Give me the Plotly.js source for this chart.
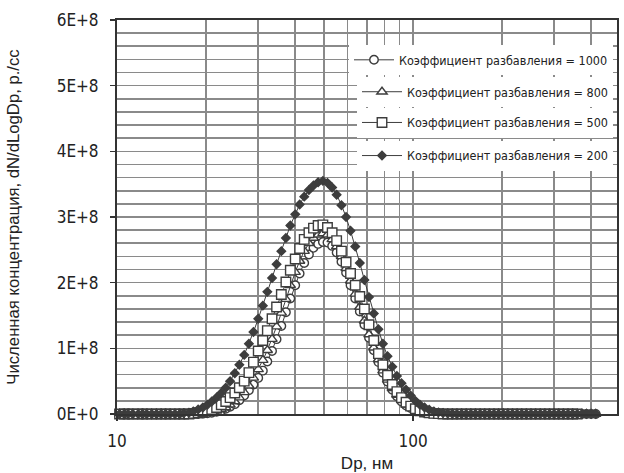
<!DOCTYPE html>
<html>
<head>
<meta charset="utf-8">
<script src="https://cdn.plot.ly/plotly-3.0.1.min.js"></script>
<style>html,body{margin:0;padding:0;background:#fff;}#chart{width:624px;height:473px;}</style>
</head>
<body>
<div id="chart"></div>
<script>
// Particle diameter, nm (SMPS channels)
const dp = [10.2,10.6,10.9,11.3,11.8,12.2,12.6,13.1,13.6,14.1,14.6,15.1,15.7,16.3,16.8,17.5,18.1,18.8,19.5,20.2,20.9,21.7,22.5,23.3,24.1,25.0,25.9,26.9,27.9,28.9,30.0,31.1,32.2,33.4,34.6,35.9,37.2,38.5,40.0,41.4,42.9,44.5,46.1,47.8,49.6,51.4,53.3,55.2,57.3,59.4,61.5,63.8,66.1,68.5,71.0,73.7,76.4,79.1,82.0,85.1,88.2,91.4,94.7,98.2,101.8,105.5,109.4,113.4,117.6,121.9,126.3,131.0,135.8,140.7,145.9,151.2,156.8,162.5,168.5,174.7,181.1,187.7,194.6,201.7,209.1,216.7,224.7,232.9,241.4,250.3,259.5,269.0,278.8,289.0,299.6,310.6,322.0,333.8,346.0,358.7,371.8,385.4,399.5,414.2];

// dN/dLogDp in units of 1E+8 particles/cc
const UNIT = 1e8;
const dil1000 = [0,0,0,0,0,0,0,0,0,0,0,0,0,0,0,0,0,0,
  0.005,0.01,0.02,0.035,0.05,0.08,0.11,0.15,0.21,0.28,0.36,0.45,0.55,0.66,0.80,0.96,1.14,1.34,1.55,1.76,1.96,2.14,2.30,2.43,2.53,2.59,2.62,2.61,2.56,2.46,2.32,2.15,1.96,1.76,1.56,1.36,1.16,0.97,0.79,0.63,0.49,0.37,0.27,0.19,0.13,0.09,0.06,0.04,0.02,0.01,0.005,
  0,0,0,0,0,0,0,0,0,0,0,0,0,0,0,0,0,0,0,0,0,0,0,0,0,0,0,0,0,0,0,0,0,0,0];
const dil800 = [0,0,0,0,0,0,0,0,0,0,0,0,0,0,0,0,0,0,
  0.01,0.02,0.03,0.05,0.07,0.10,0.14,0.19,0.25,0.33,0.43,0.55,0.68,0.82,0.97,1.14,1.33,1.54,1.75,1.96,2.16,2.33,2.48,2.60,2.68,2.73,2.75,2.73,2.66,2.55,2.40,2.22,2.03,1.83,1.63,1.42,1.21,1.01,0.83,0.66,0.52,0.39,0.29,0.21,0.14,0.10,0.06,0.04,0.02,0.01,0.005,
  0,0,0,0,0,0,0,0,0,0,0,0,0,0,0,0,0,0,0,0,0,0,0,0,0,0,0,0,0,0,0,0,0,0,0];
const dil500 = [0,0,0,0,0,0,0,0,0,0,0,0,0,0,0,0,
  0.01,0.02,0.03,0.05,0.07,0.10,0.14,0.19,0.25,0.32,0.40,0.50,0.63,0.79,0.96,1.12,1.27,1.45,1.63,1.82,2.01,2.19,2.36,2.52,2.66,2.76,2.83,2.87,2.88,2.84,2.76,2.64,2.48,2.31,2.14,1.96,1.79,1.60,1.36,1.12,0.92,0.75,0.59,0.45,0.34,0.25,0.18,0.12,0.08,0.05,0.03,0.02,0.01,0.005,
  0,0,0,0,0,0,0,0,0,0,0,0,0,0,0,0,0,0,0,0,0,0,0,0,0,0,0,0,0,0];
const dil200 = [0,0,0,0,0,0,0,0,0,0,0,0,0,0,
  0.01,0.02,0.04,0.07,0.10,0.14,0.19,0.25,0.32,0.40,0.50,0.62,0.75,0.90,1.07,1.25,1.45,1.65,1.86,2.07,2.28,2.48,2.68,2.87,3.04,3.19,3.31,3.41,3.48,3.53,3.55,3.52,3.45,3.34,3.18,3.00,2.79,2.55,2.30,2.04,1.78,1.53,1.29,1.07,0.88,0.72,0.58,0.47,0.37,0.28,0.20,0.14,0.10,0.065,0.04,0.025,0.015,0.008,0.004,
  0,0,0,0,0,0,0,0,0,0,0,0,0,0,0,0,0,0,0,0,0,0,0,0,0,0,0,0,0,0,0];

const seriesNames = [
  'Коэффициент разбавления = 1000',
  'Коэффициент разбавления = 800',
  'Коэффициент разбавления = 500',
  'Коэффициент разбавления = 200'
];
const yTickVals = [0,1,2,3,4,5,6];
const yTickText = ['0E+0','1E+8','2E+8','3E+8','4E+8','5E+8','6E+8'];
const xTickVals = [10,100];
const xTickText = ['10','100'];
const xGridVals = [20,30,40,50,60,70,80,90,200,300,400];
const xTitle = 'Dp, нм';
const yTitle = 'Численная концентрация, dN/dLogDp, p./cc';

const NARROW = '"Liberation Sans Narrow", "DejaVu Sans Condensed", "Arial Narrow", sans-serif';
const REG = '"Liberation Sans", Arial, sans-serif';
const INK = '#3d3d3d';
const GRID = '#8a8a8a';

function scaled(a){ return a.map(v => v*UNIT); }

const specs = [
  {y: dil1000, sym:'circle', size:8.5, legend:'legend'},
  {y: dil800, sym:'triangle-up', size:9, legend:'legend2'},
  {y: dil500, sym:'square', size:9.5, legend:'legend3'},
  {y: dil200, sym:'diamond', size:6.5, legend:'legend4'}
];
const traces = specs.map((s,i)=>({
  type:'scatter', mode:'lines+markers', x: dp, y: scaled(s.y), name: seriesNames[i],
  legend: s.legend, cliponaxis:false,
  line:{color:INK, width:1},
  marker:{symbol:s.sym, size:s.size, color: s.sym==='diamond'?INK:'#ffffff',
          line:{color:INK, width:1.4}}
}));

const legendY = [0.898, 0.817, 0.739, 0.655];
function leg(y){
  return {x:0.992, xanchor:'right', y:y, yanchor:'middle', bgcolor:'#ffffff',
          borderwidth:0, itemwidth:40, font:{family:NARROW, size:12.5, color:'#222'},
          itemclick:false};
}

const layout = {
  width:624, height:473,
  margin:{l:117, r:7, t:20, b:59},
  paper_bgcolor:'#ffffff', plot_bgcolor:'#ffffff',
  showlegend:true,
  legend: leg(legendY[0]), legend2: leg(legendY[1]), legend3: leg(legendY[2]), legend4: leg(legendY[3]),
  xaxis:{
    type:'log', range:[1, 2.689], automargin:false,
    tickmode:'array', tickvals:xTickVals.map(v=>v), ticktext:xTickText,
    ticks:'outside', ticklen:5, tickcolor:'#333', tickwidth:1.5,
    showgrid:true, gridcolor:GRID, gridwidth:1.6,
    minor:{tickmode:'array', tickvals:xGridVals, showgrid:true, gridcolor:GRID, gridwidth:1.6, ticks:''},
    showline:true, linecolor:'#333', linewidth:2, mirror:true,
    zeroline:false,
    tickfont:{family:NARROW, size:17, color:'#222'},
    ticklabelstandoff:6,
    title:{text:xTitle, font:{family:REG, size:17, color:'#222'}, standoff:12}
  },
  yaxis:{
    range:[0, 6e8], automargin:false,
    tickmode:'array', tickvals:yTickVals.map(v=>v*UNIT), ticktext:yTickText,
    ticks:'outside', ticklen:5, tickcolor:'#333', tickwidth:1.5,
    showgrid:true, gridcolor:GRID, gridwidth:1.6,
    minor:{dtick:0.2*UNIT, showgrid:true, gridcolor:GRID, gridwidth:1.6, ticks:''},
    showline:true, linecolor:'#333', linewidth:2, mirror:true,
    zeroline:false,
    tickfont:{family:NARROW, size:17, color:'#222'},
    ticklabelstandoff:8,
    title:{text:yTitle, font:{family:REG, size:16.7, color:'#222'}, standoff:33}
  }
};

Plotly.newPlot('chart', traces, layout, {staticPlot:true, displayModeBar:false});
</script>
</body>
</html>
